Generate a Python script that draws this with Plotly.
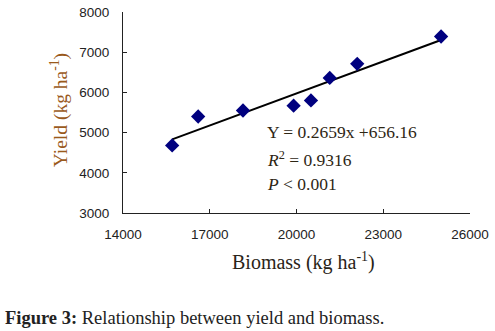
import plotly.graph_objects as go

biomass = [15700, 16600, 18150, 19900, 20500, 21150, 22100, 25000]
yield_vals = [4680, 5400, 5550, 5670, 5800, 6360, 6710, 7390]
slope = 0.2659
intercept = 656.16
x_ticks = [14000, 17000, 20000, 23000, 26000]
x_tick_labels = ["14000", "17000", "20000", "23000", "26000"]
y_ticks = [3000, 4000, 5000, 6000, 7000, 8000]
y_tick_labels = ["3000", "4000", "5000", "6000", "7000", "8000"]

fit_x = [min(biomass), max(biomass)]
fit_y = [slope * v + intercept for v in fit_x]

fig = go.Figure()
fig.add_trace(go.Scatter(x=fit_x, y=fit_y, mode="lines",
                         line=dict(color="black", width=2), showlegend=False))
fig.add_trace(go.Scatter(x=biomass, y=yield_vals, mode="markers",
                         marker=dict(symbol="diamond", size=11, color="#00007f"),
                         showlegend=False))

tickfont = dict(family="Liberation Sans, Arial", size=13.5, color="#222222")
serif = "Liberation Serif, Times New Roman"
fig.update_xaxes(range=[14000, 26000], tickvals=x_ticks, ticktext=x_tick_labels,
                 showgrid=False, showline=True, linecolor="#222222", linewidth=1.2,
                 ticks="inside", ticklen=4, tickcolor="#222222",
                 tickfont=tickfont, ticklabelstandoff=9, zeroline=False,
                 ticklabeloverflow="allow", automargin=False)
fig.update_yaxes(range=[3000, 8000], tickvals=y_ticks, ticktext=y_tick_labels,
                 showgrid=False, showline=True, linecolor="#222222", linewidth=1.2,
                 ticks="inside", ticklen=4, tickcolor="#222222",
                 tickfont=tickfont, ticklabelstandoff=10, zeroline=False,
                 ticklabeloverflow="allow", automargin=False)

txtcol = "#2e2614"
ann = [
    dict(text="Yield (kg ha<sup>-1</sup>)", x=-0.184, y=0.512, textangle=-90,
         font=dict(family=serif, size=19.5, color="#9a5a1c")),
    dict(text="Biomass (kg ha<sup>-1</sup>)", x=0.519, y=-0.239,
         font=dict(family=serif, size=20, color="#2a2418")),
    dict(text="Y = 0.2659x +656.16", x=0.41, y=0.4015, xanchor="left",
         font=dict(family=serif, size=17.5, color=txtcol)),
    dict(text="<i>R</i><sup>2</sup> = 0.9316", x=0.41, y=0.270, xanchor="left",
         font=dict(family=serif, size=17.5, color=txtcol)),
    dict(text="<i>P</i> < 0.001", x=0.41, y=0.1428, xanchor="left",
         font=dict(family=serif, size=17.5, color=txtcol)),
    dict(text="<b>Figure 3:</b> Relationship between yield and biomass.",
         x=-0.3458, y=-0.522, xanchor="left",
         font=dict(family=serif, size=18.5, color="#222222")),
]
for a in ann:
    a.update(xref="paper", yref="paper", showarrow=False)
    a.setdefault("xanchor", "center")
    a.setdefault("yanchor", "middle")

fig.update_layout(width=495, height=331, margin=dict(l=123, r=25, t=12, b=118),
                  paper_bgcolor="white", plot_bgcolor="white", annotations=ann)
fig.write_html("out.html", config={"displayModeBar": False},
               post_script="document.body.style.margin='0';")
